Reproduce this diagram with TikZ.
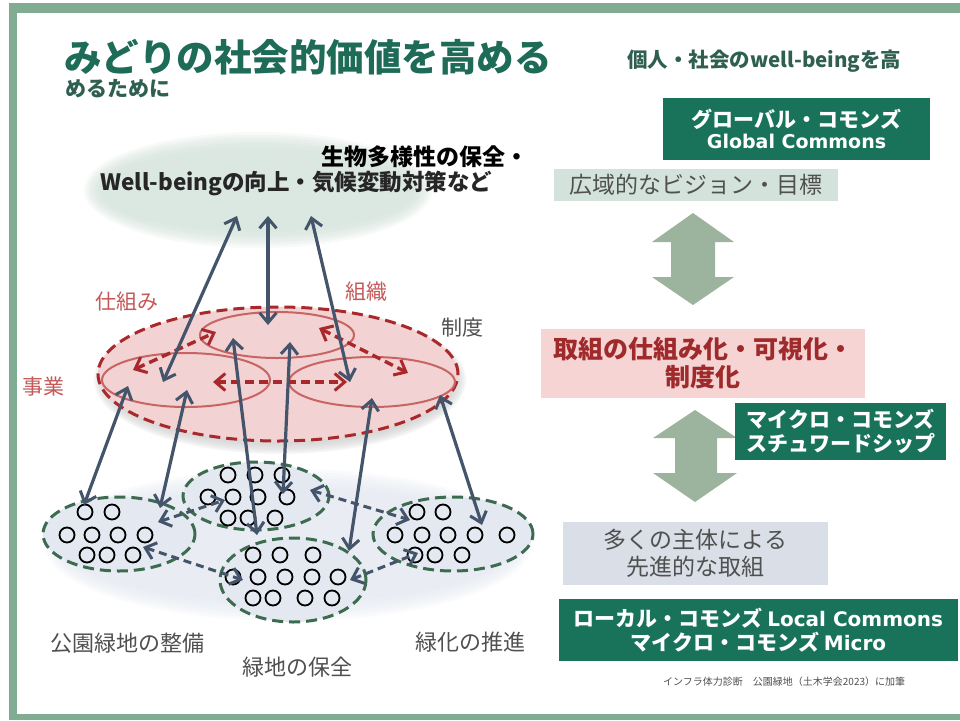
\documentclass[tikz,border=0pt]{standalone}
\usepackage{fontspec}
\setmainfont{Noto Sans CJK JP}
\newfontfamily\dvs{DejaVu Sans}
\usetikzlibrary{arrows.meta}
\definecolor{framec}{HTML}{80AC94}
\definecolor{dgreen}{HTML}{19735A}
\definecolor{titleg}{HTML}{1E6B57}
\definecolor{subg}{HTML}{2F5F50}
\definecolor{lgreen}{HTML}{D3E3DC}
\definecolor{topell}{HTML}{CFE1D7}
\definecolor{pinkbox}{HTML}{F7D4D4}
\definecolor{bluebox}{HTML}{D9DEE7}
\definecolor{darrow}{HTML}{9CB49D}
\definecolor{dred}{HTML}{A8282B}
\definecolor{lred}{HTML}{C86464}
\definecolor{redlab}{HTML}{C45858}
\definecolor{redfill}{HTML}{F2D2D2}
\definecolor{slate}{HTML}{44546A}
\definecolor{cgreen}{HTML}{3D6B4F}
\definecolor{cloudc}{HTML}{E3E8F1}
\definecolor{gtext}{HTML}{505050}
\definecolor{boxtext}{HTML}{9E2A2B}
\newcommand\softell[6]{%
  \foreach \k in {0,...,6}{%
    \fill[#5, opacity=0.16] (#1,#2) ellipse [x radius={(#3+#6-#6*\k/6)*1pt}, y radius={(#4+#6-#6*\k/6)*1pt}];}}
\newcommand\fsz[1]{\fontsize{#1}{#1}\selectfont}
\begin{document}
\begin{tikzpicture}[x=1pt,y=-1pt,
  gbox/.style={fill=dgreen, text=white, font=\bfseries, align=center, inner sep=0pt},
  plain/.style={inner sep=0pt, anchor=west},
  barb/.tip={Straight Barb[length=10pt,width=17pt,line width=3pt]},
  slatearrow/.style={slate, line width=3.2pt, barb-barb},
  redarrow/.style={dred, line width=3.4pt, dash pattern=on 9pt off 5pt, barb-barb},
  clarrow/.style={slate, line width=3pt, dash pattern=on 8pt off 5pt, barb-barb},
  ring/.style={black, line width=1.8pt},
  cluster/.style={cgreen, line width=3pt, dash pattern=on 11pt off 6pt, fill=cloudc},
  inner/.style={lred, line width=2pt},
  grlabel/.style={inner sep=0pt, text=gtext, font=\fsz{22}},
  rlabel/.style={inner sep=0pt, text=redlab, font=\fsz{21}}
]
\useasboundingbox (0,0) rectangle (960,720);
\fill[white] (0,0) rectangle (960,720);
% frame
\fill[framec] (9,3) rectangle (960,13);
\fill[framec] (9,3) rectangle (17,720);
\fill[framec] (9,714) rectangle (960,720);

% titles
\node[plain, text=titleg, font=\fsz{37.5}\bfseries] (title) at (64,57) {みどりの社会的価値を高める};
\node[plain, text=subg, font=\fsz{20.5}\bfseries] (sub1) at (627,61) {個人・社会のwell-beingを高};
\node[plain, text=subg, font=\fsz{21}\bfseries] (sub2) at (65,89) {めるために};

% right column
\node[gbox, minimum width=267pt, minimum height=62pt] (gc) at (796.5,129) {{\fsz{21}グローバル・コモンズ}\\[4pt]{\dvs\fsz{19}Global Commons}};
\node[fill=lgreen, minimum width=284pt, minimum height=32pt, inner sep=0pt, text=gtext, font=\fsz{23}] (vision) at (696,185) {広域的なビジョン・目標};
\fill[darrow] (693,213) -- (734,242) -- (715,242) -- (715,277) -- (734,277) -- (693,305) -- (652,277) -- (671,277) -- (671,242) -- (652,242) -- cycle;
\node[fill=pinkbox, minimum width=324pt, minimum height=69pt, inner sep=0pt, text=boxtext, font=\fsz{25}\bfseries, align=center] (mech) at (703,363.5) {取組の仕組み化・可視化・\\[3pt]制度化};
\fill[darrow] (695,410) -- (737,438) -- (717,438) -- (717,473) -- (737,473) -- (695,502) -- (653,473) -- (675,473) -- (675,438) -- (653,438) -- cycle;
\node[gbox, minimum width=211pt, minimum height=57pt] (mc) at (840.5,431.5) {{\fsz{21}マイクロ・コモンズ}\\[3pt]{\fsz{21}スチュワードシップ}};
\node[fill=bluebox, minimum width=265pt, minimum height=63pt, inner sep=0pt, text=gtext, font=\fsz{23}, align=center] (many) at (695.5,553.5) {多くの主体による\\[4pt]先進的な取組};
\node[gbox, minimum width=399pt, minimum height=62pt] (lc) at (758.5,630) {{\fsz{21}ローカル・コモンズ {\dvs\fsz{20}Local Commons}}\\[3pt]{\fsz{21}マイクロ・コモンズ {\dvs\fsz{20}Micro}}};
\node[plain, text=gtext, font=\fsz{10}] (cite) at (663,682) {インフラ体力診断　公園緑地（土木学会2023）に加筆};

% top ellipse (soft)
\softell{258}{190}{158}{42}{topell}{16}
\node[plain, font=\fsz{23}\bfseries, text=black] (goal1) at (321,157) {生物多様性の保全・};
\node[plain, font=\fsz{22.5}\bfseries, text=black!85] (goal2) at (100,183) {Well-beingの向上・気候変動対策など};

% red area
\softell{280}{380}{176}{64}{gray!40}{10}
\draw[dred, line width=3pt, dash pattern=on 11pt off 6pt, fill=redfill] (278,374) ellipse [x radius=180pt, y radius=67pt];
\draw[inner] (277,335) ellipse [x radius=77pt, y radius=23pt];
\draw[inner] (186,380) ellipse [x radius=84pt, y radius=27pt];
\draw[inner] (372,382) ellipse [x radius=83pt, y radius=25pt];
\node[rlabel, anchor=west] (shikumi) at (95,302) {仕組み};
\node[rlabel, anchor=west] (soshiki) at (345,292) {組織};
\node[rlabel, anchor=west] (jigyo) at (22,387) {事業};
\node[grlabel, anchor=west, font=\fsz{21}] (seido) at (441,328) {制度};

% bottom haze
\softell{288}{545}{225}{58}{cloudc}{18}
% clusters
\draw[cluster] (119,534) ellipse [x radius=76pt, y radius=37pt];
\draw[cluster] (256,496) ellipse [x radius=73pt, y radius=34pt];
\draw[cluster] (293,580) ellipse [x radius=73pt, y radius=42pt];
\draw[cluster] (453,534) ellipse [x radius=80pt, y radius=37pt];
\foreach \p in {(85,512),(112,512),(67,535),(92,535),(118,535),(145,535),(87,555),(107,555),(133,555),
  (228,475),(255,475),(282,475),(208,497),(233,497),(258,497),(287,497),(228,518),(248,518),(275,518),
  (253,555),(280,555),(313,555),(233,577),(258,577),(285,577),(312,577),(338,577),(253,598),(273,598),(305,598),(332,598),
  (417,512),(443,512),(395,535),(422,535),(448,535),(475,535),(507,535),(415,555),(435,555),(462,555)}
  \draw[ring] \p circle [radius=7.5pt];
\node[grlabel, anchor=west] (park) at (50,643) {公園緑地の整備};
\node[grlabel, anchor=west] (cons) at (242,667) {緑地の保全};
\node[grlabel, anchor=west] (green) at (415,642) {緑化の推進};

% coordinates
\coordinate (t1a) at (237,216); \coordinate (t1b) at (163,382);
\coordinate (t2a) at (268,216); \coordinate (t2b) at (268,325);
\coordinate (t3a) at (311,216); \coordinate (t3b) at (350,382);
\coordinate (b1a) at (128,386); \coordinate (b1b) at (84,505);
\coordinate (b2a) at (187,390); \coordinate (b2b) at (160,508);
\coordinate (b3a) at (233,338); \coordinate (b3b) at (257,535);
\coordinate (b4a) at (290,342); \coordinate (b4b) at (283,494);
\coordinate (b5a) at (372,398); \coordinate (b5b) at (349,551);
\coordinate (b6a) at (440,395); \coordinate (b6b) at (482,525);
\coordinate (r1a) at (133,370); \coordinate (r1b) at (216,332);
\coordinate (r2a) at (213,382); \coordinate (r2b) at (347,382);
\coordinate (r3a) at (319,328); \coordinate (r3b) at (408,373);
\coordinate (c1a) at (158,522); \coordinate (c1b) at (225,500);
\coordinate (c2a) at (143,547); \coordinate (c2b) at (243,580);
\coordinate (c3a) at (310,490); \coordinate (c3b) at (410,520);
\coordinate (c4a) at (350,580); \coordinate (c4b) at (418,553);

\draw[redarrow] (r1a) -- (r1b);
\draw[redarrow] (r2a) -- (r2b);
\draw[redarrow] (r3a) -- (r3b);
\foreach \n in {t1,t2,t3,b1,b2,b3,b4,b5,b6}
  \draw[slatearrow] (\n a) -- (\n b);
\foreach \n in {c1,c2,c3,c4}
  \draw[clarrow] (\n a) -- (\n b);
\end{tikzpicture}
\end{document}
